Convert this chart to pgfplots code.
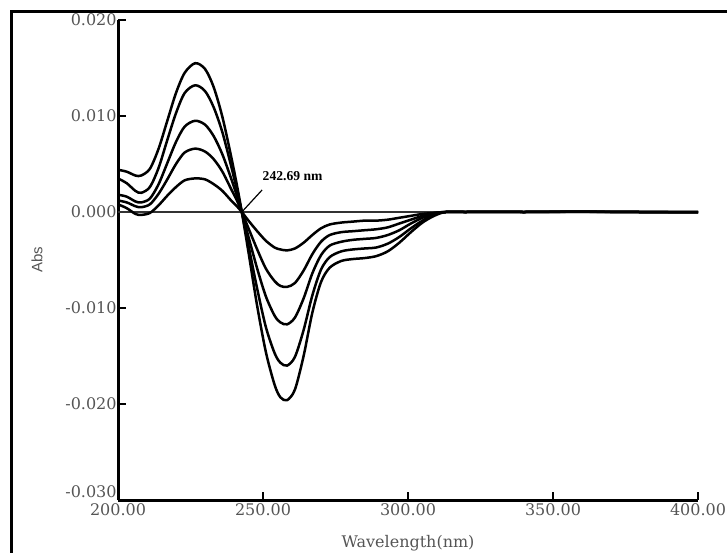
\documentclass[border=0pt]{standalone}
\usepackage{pgfplots}
\usepackage{pgfplotstable}
\pgfplotsset{compat=1.18}
\usepackage{fontspec}
\setmainfont{DejaVu Serif}
\newfontfamily\absfont{Liberation Sans}
\newfontfamily\annfont{Liberation Serif}

\pgfplotstableread{
x      a        b        c        d        e
200    0.0044   0.0035   0.0018   0.0012   0.0008
203    0.0042   0.0030   0.0016   0.0010   0.0004
206    0.0038   0.0022   0.0011   0.0006  -0.0002
208    0.0038   0.0020   0.0010   0.0005  -0.0003
211    0.0045   0.0026   0.0014   0.0008  -0.0001
214    0.0066   0.0046   0.0029   0.0019   0.0007
217    0.0095   0.0075   0.0051   0.0034   0.0017
220    0.0124   0.0103   0.0073   0.0050   0.0026
223    0.0145   0.0124   0.0089   0.0062   0.0033
226.6  0.0155   0.0132   0.0095   0.0066   0.0035
230    0.0149   0.0126   0.0091   0.0063   0.0034
233    0.0130   0.0109   0.0079   0.0055   0.0029
236    0.0099   0.0083   0.0060   0.0042   0.0022
239    0.0058   0.0048   0.0035   0.0024   0.0012
241    0.0028   0.0023   0.0017   0.0012   0.0006
242.69 0        0        0        0        0
245   -0.0042  -0.0035  -0.0026  -0.0017  -0.0009
248   -0.0098  -0.0080  -0.0059  -0.0039  -0.0020
251   -0.0146  -0.0120  -0.0088  -0.0059  -0.0030
254   -0.0180  -0.0147  -0.0108  -0.0072  -0.0037
256   -0.0193  -0.0157  -0.0115  -0.0077  -0.0039
258.3 -0.0196  -0.0160  -0.0117  -0.0078  -0.0040
261   -0.0185  -0.0151  -0.0110  -0.0074  -0.0038
264   -0.0150  -0.0123  -0.0090  -0.0061  -0.0032
267   -0.0105  -0.0087  -0.0064  -0.0044  -0.0024
270   -0.0073  -0.0060  -0.0045  -0.0031  -0.0017
273   -0.0058  -0.0047  -0.0035  -0.0024  -0.0013
277   -0.0051  -0.0041  -0.0031  -0.0021  -0.0011
281   -0.0049  -0.0039  -0.0029  -0.0020  -0.0010
285   -0.0048  -0.0038  -0.0028  -0.0019  -0.0009
289   -0.0046  -0.0037  -0.0027  -0.0018  -0.0009
293   -0.0041  -0.0033  -0.0024  -0.0016  -0.0008
297   -0.0032  -0.0026  -0.0019  -0.0012  -0.0006
301   -0.0021  -0.0017  -0.0012  -0.0008  -0.0004
305   -0.0011  -0.0009  -0.0006  -0.0004  -0.0002
309   -0.0004  -0.0003  -0.0002  -0.0001  -0.0001
313    0.0000   0.0000   0.0000   0.0000   0.0000
320    0.0000   0.0000   0.0000   0.0000   0.0000
330    0.00002  0.00001  0.00002  0.00001  0.00001
340    0.0000   0.0000   0.0000   0.0000   0.0000
350    0.00003  0.00002  0.00002  0.00001  0.00001
360    0.00005  0.00004  0.00003  0.00002  0.00001
370    0.00002  0.00001  0.00001  0.00001  0.0000
380    0.00001  0.0000   0.0000   0.0000   0.0000
390    0.0000   0.0000   0.0000   0.0000   0.0000
400    0.0000   0.0000   0.0000   0.0000   0.0000
}\spectra

\definecolor{ticktext}{RGB}{85,85,85}

\begin{document}
\begin{tikzpicture}[x=1pt,y=1pt]
\useasboundingbox (0,0) rectangle (363.5,276);
\draw[line width=1.5pt] (5.5,-10) -- (5.5,270) -- (380,270);
\begin{axis}[
  at={(59pt,26pt)}, anchor=south west,
  scale only axis, width=290pt, height=240pt,
  xmin=200, xmax=400, ymin=-0.03, ymax=0.02,
  axis lines=left,
  axis line style={-, line width=1.5pt, black},
  tick align=inside,
  major tick length=4pt,
  tick style={line width=1pt, black},
  scaled y ticks=false, scaled x ticks=false,
  xtick={200,250,300,350,400},
  xticklabels={200.00,250.00,300.00,350.00,400.00},
  ytick={-0.03,-0.02,-0.01,0,0.01,0.02},
  yticklabels={\raisebox{8pt}{-0.030},-0.020,-0.010,0.000,0.010,0.020},
  ticklabel style={font=\fontsize{8}{9}\selectfont, text=ticktext},
  yticklabel style={inner sep=0.5pt},
  xticklabel style={inner sep=1.5pt},
  xlabel={Wavelength(nm)},
  ylabel={Abs},
  xlabel style={at={(axis description cs:0.5,-0.0896)}, anchor=center, font=\fontsize{8}{9}\selectfont, text=ticktext},
  ylabel style={at={(axis description cs:-0.1397,0.5)}, anchor=center, font=\absfont\fontsize{7.5}{9}\selectfont, text=ticktext},
  clip=false,
]
\addplot[line width=0.9pt, color=black!80, forget plot] coordinates {(200,0) (400,0)};
\addplot[smooth, line width=1.25pt, black] table[x=x, y=a] {\spectra};
\addplot[smooth, line width=1.25pt, black] table[x=x, y=b] {\spectra};
\addplot[smooth, line width=1.25pt, black] table[x=x, y=c] {\spectra};
\addplot[smooth, line width=1.25pt, black] table[x=x, y=d] {\spectra};
\addplot[smooth, line width=1.25pt, black] table[x=x, y=e] {\spectra};
\draw[line width=0.6pt] (axis cs:242.69,0) -- (axis cs:249.7,0.0023);
\node[font=\annfont\bfseries\fontsize{6.8}{8}\selectfont] at (axis cs:260.2,0.00375) {242.69 nm};
\end{axis}
\end{tikzpicture}
\end{document}
